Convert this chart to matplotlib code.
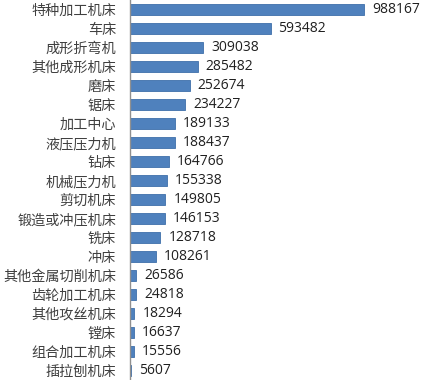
import matplotlib
matplotlib.use("Agg")
import matplotlib.pyplot as plt

categories = ["特种加工机床", "车床", "成形折弯机", "其他成形机床", "磨床", "锯床", "加工中心",
              "液压压力机", "钻床", "机械压力机", "剪切机床", "锻造或冲压机床", "铣床", "冲床",
              "其他金属切削机床", "齿轮加工机床", "其他攻丝机床", "镗床", "组合加工机床", "插拉刨机床"]
values = [988167, 593482, 309038, 285482, 252674, 234227, 189133, 188437, 164766, 155338,
          149805, 146153, 128718, 108261, 26586, 24818, 18294, 16637, 15556, 5607]

fig = plt.figure(figsize=(4.3, 3.8), dpi=100)
ax = fig.add_axes([130/430, 0.0, 295/430, 1.0])
y = list(range(len(categories)))
ax.barh(y, values, height=0.62, color="#4F81BD", edgecolor="#3F70AA", linewidth=0.6)
ax.set_ylim(len(categories) - 0.5, -0.5)
ax.set_xlim(0, 988167 * 295 / 234)
ax.set_yticks(y)
ax.set_yticklabels(categories, family=["Noto Sans CJK SC", "DejaVu Sans"], fontsize=10.2, color="#404040")
ax.tick_params(axis="y", length=0, pad=10)
ax.set_xticks([])
for s in ["top", "right", "bottom"]:
    ax.spines[s].set_visible(False)
ax.spines["left"].set_color("#909090")
ax.spines["left"].set_linewidth(1)
for yi, v in zip(y, values):
    ax.annotate(str(v), (v, yi), xytext=(8, 0), textcoords="offset pixels",
                va="center", ha="left", fontsize=10, family="Open Sans", color="#202020")
fig.savefig("out.png", dpi=100)
